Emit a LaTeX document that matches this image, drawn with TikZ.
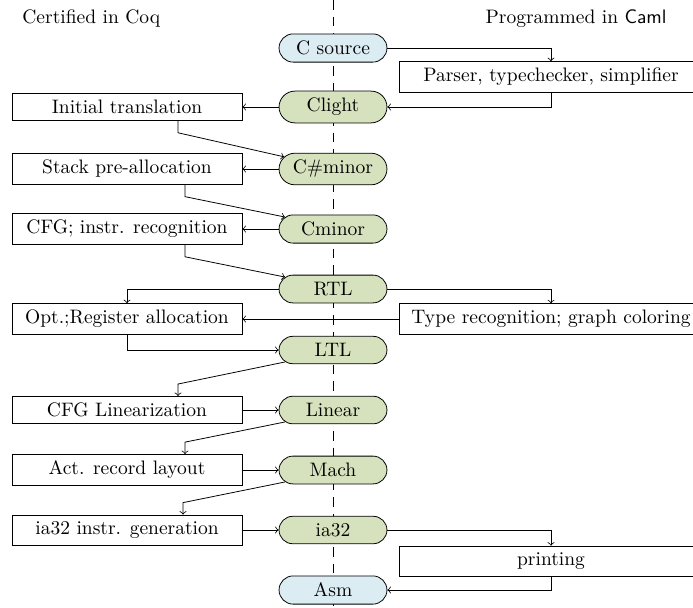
\documentclass[tikz,border=0pt]{standalone}
\usetikzlibrary{shapes.misc,calc}
\definecolor{pillgreen}{RGB}{214,226,189}
\definecolor{pillblue}{RGB}{220,236,243}
\begin{document}
\begin{tikzpicture}[x=0.5128pt,y=-0.5128pt,>=to,
  pill/.style={rounded rectangle,draw,minimum width=62pt,inner ysep=3.6pt,fill=pillgreen},
  srcpill/.style={pill,fill=pillblue},
  lbox/.style={draw,rectangle,minimum width=117.9pt,fill=white},
  rbox/.style={draw,rectangle,minimum width=155.9pt,fill=white},
  title/.style={inner sep=0pt}]
\useasboundingbox (0,0) rectangle (693,607);
\coordinate (axtop) at (333,0);
\coordinate (axbot) at (333,607);
\draw[dash pattern=on 5pt off 3.5pt] (axtop) -- (axbot);

\node[title,anchor=base west] (lt) at (22,23) {Certified in Coq};
\node[title,anchor=base east] (rt) at (667,23) {Programmed in \textsf{Caml}};

\node[srcpill] (csrc) at (333,48) {C source};
\node[pill] (clight) at (333,107) {Clight};
\node[pill] (csharp) at (333,169) {C\#minor};
\node[pill] (cminor) at (333,229) {Cminor};
\node[pill] (rtl) at (333,289) {RTL};
\node[pill] (ltl) at (333,350) {LTL};
\node[pill] (linear) at (333,410) {Linear};
\node[pill] (mach) at (333,470) {Mach};
\node[pill] (ia) at (333,530) {ia32};
\node[srcpill] (asm) at (333,590) {Asm};

\node[lbox] (init) at (127,107) {Initial translation};
\node[lbox] (stack) at (127,169) {Stack pre-allocation};
\node[lbox] (cfg) at (127,229) {CFG; instr. recognition};
\node[lbox] (opt) at (127,319) {Opt.;Register allocation};
\node[lbox] (lin) at (127,410) {CFG Linearization};
\node[lbox] (act) at (127,470) {Act. record layout};
\node[lbox] (gen) at (127,530) {ia32 instr. generation};

\node[rbox] (parser) at (551,77) {Parser, typechecker, simplifier};
\node[rbox] (type) at (551,319) {Type recognition; graph coloring};
\node[rbox] (print) at (551,561) {printing};

\draw[->] (csrc.east) -| (parser.north);
\draw[->] (parser.south) |- (clight.east);
\draw[->] (clight.west) -- (init.east);
\draw[->] ($(init.south)+(51,0)$) -- ++(0,12) -- (csharp.166);
\draw[->] (csharp.west) -- (stack.east);
\draw[->] ($(stack.south)+(58,0)$) -- ++(0,12) -- (cminor.166);
\draw[->] (cminor.west) -- (cfg.east);
\draw[->] ($(cfg.south)+(58,0)$) -- ++(0,12) -- (rtl.166);
\draw[->] (rtl.west) -| (opt.north);
\draw[->] (rtl.east) -| (type.north);
\draw[->] (type.west) -- (opt.east);
\draw[->] (opt.south) |- (ltl.west);
\draw[->] (ltl.194) -- ($(lin.north)+(51,-12)$) -- ($(lin.north)+(51,0)$);
\draw[->] (lin.east) -- (linear.west);
\draw[->] (linear.194) -- ($(act.north)+(58,-12)$) -- ($(act.north)+(58,0)$);
\draw[->] (act.east) -- (mach.west);
\draw[->] (mach.194) -- ($(gen.north)+(56,-12)$) -- ($(gen.north)+(56,0)$);
\draw[->] (gen.east) -- (ia.west);
\draw[->] (ia.east) -| (print.north);
\draw[->] (print.south) |- (asm.east);
\end{tikzpicture}
\end{document}
